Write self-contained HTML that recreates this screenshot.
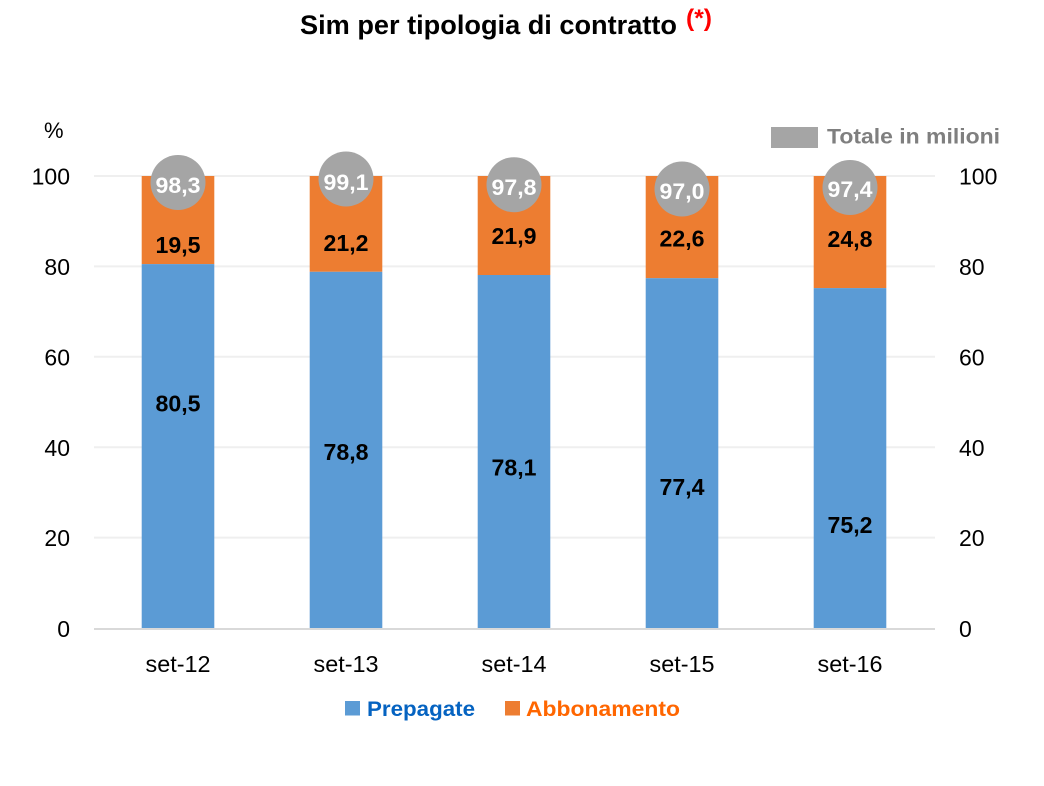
<!DOCTYPE html>
<html>
<head>
<meta charset="utf-8">
<style>
html,body{margin:0;padding:0;background:#fff;}
svg{display:block;}
text{font-family:"Liberation Sans",Arial,sans-serif;}
</style>
</head>
<body>
<svg width="1044" height="786" viewBox="0 0 1044 786" xmlns="http://www.w3.org/2000/svg">
  <rect x="0" y="0" width="1044" height="786" fill="#ffffff"/>
  <!-- Title -->
  <text x="300" y="34" font-size="27" font-weight="bold" fill="#000" textLength="377" lengthAdjust="spacingAndGlyphs">Sim per tipologia di contratto</text>
  <text x="686" y="26" font-size="24" font-weight="bold" fill="#ff0000" textLength="26" lengthAdjust="spacingAndGlyphs">(*)</text>

  <!-- gridlines -->
  <g stroke="#efefef" stroke-width="2">
    <line x1="94" y1="176" x2="935" y2="176"/>
    <line x1="94" y1="266.4" x2="935" y2="266.4"/>
    <line x1="94" y1="356.8" x2="935" y2="356.8"/>
    <line x1="94" y1="447.2" x2="935" y2="447.2"/>
    <line x1="94" y1="537.6" x2="935" y2="537.6"/>
  </g>

  <!-- bars -->
  <g>
    <rect x="141.7" y="176" width="72.6" height="88.1" fill="#ed7d31"/>
    <rect x="141.7" y="264.1" width="72.6" height="363.9" fill="#5b9bd5"/>
    <rect x="309.7" y="176" width="72.6" height="95.8" fill="#ed7d31"/>
    <rect x="309.7" y="271.8" width="72.6" height="356.2" fill="#5b9bd5"/>
    <rect x="477.7" y="176" width="72.6" height="99" fill="#ed7d31"/>
    <rect x="477.7" y="275" width="72.6" height="353" fill="#5b9bd5"/>
    <rect x="645.7" y="176" width="72.6" height="102.2" fill="#ed7d31"/>
    <rect x="645.7" y="278.2" width="72.6" height="349.8" fill="#5b9bd5"/>
    <rect x="813.7" y="176" width="72.6" height="112.1" fill="#ed7d31"/>
    <rect x="813.7" y="288.1" width="72.6" height="339.9" fill="#5b9bd5"/>
  </g>

  <!-- axis line -->
  <line x1="94" y1="629" x2="935" y2="629" stroke="#d9d9d9" stroke-width="2"/>

  <!-- circles -->
  <g fill="#a5a5a5">
    <circle cx="178" cy="182.5" r="27.5"/>
    <circle cx="346" cy="179" r="27.5"/>
    <circle cx="514" cy="184.7" r="27.5"/>
    <circle cx="682" cy="189" r="27.5"/>
    <circle cx="850" cy="187.5" r="27.5"/>
  </g>
  <g font-size="22" font-weight="bold" fill="#ffffff" text-anchor="middle">
    <text x="178" y="193" textLength="45" lengthAdjust="spacingAndGlyphs">98,3</text>
    <text x="346" y="190" textLength="45" lengthAdjust="spacingAndGlyphs">99,1</text>
    <text x="514" y="195" textLength="45" lengthAdjust="spacingAndGlyphs">97,8</text>
    <text x="682" y="199" textLength="45" lengthAdjust="spacingAndGlyphs">97,0</text>
    <text x="850" y="197" textLength="45" lengthAdjust="spacingAndGlyphs">97,4</text>
  </g>

  <!-- data labels -->
  <g font-size="23" font-weight="bold" fill="#000" text-anchor="middle">
    <text x="178" y="253" textLength="45" lengthAdjust="spacingAndGlyphs">19,5</text>
    <text x="346" y="251" textLength="45" lengthAdjust="spacingAndGlyphs">21,2</text>
    <text x="514" y="244" textLength="45" lengthAdjust="spacingAndGlyphs">21,9</text>
    <text x="682" y="246.5" textLength="45" lengthAdjust="spacingAndGlyphs">22,6</text>
    <text x="850" y="247" textLength="45" lengthAdjust="spacingAndGlyphs">24,8</text>
    <text x="178" y="411.5" textLength="45" lengthAdjust="spacingAndGlyphs">80,5</text>
    <text x="346" y="460" textLength="45" lengthAdjust="spacingAndGlyphs">78,8</text>
    <text x="514" y="475.5" textLength="45" lengthAdjust="spacingAndGlyphs">78,1</text>
    <text x="682" y="495" textLength="45" lengthAdjust="spacingAndGlyphs">77,4</text>
    <text x="850" y="533" textLength="45" lengthAdjust="spacingAndGlyphs">75,2</text>
  </g>

  <!-- left axis labels -->
  <g font-size="23" fill="#000" text-anchor="end">
    <text x="70" y="184.5">100</text>
    <text x="70" y="275">80</text>
    <text x="70" y="365.5">60</text>
    <text x="70" y="456">40</text>
    <text x="70" y="546">20</text>
    <text x="70" y="637">0</text>
  </g>
  <text x="44" y="138" font-size="22" fill="#000">%</text>

  <!-- right axis labels -->
  <g font-size="23" fill="#000" text-anchor="start">
    <text x="959" y="184.5">100</text>
    <text x="959" y="275">80</text>
    <text x="959" y="365.5">60</text>
    <text x="959" y="456">40</text>
    <text x="959" y="546">20</text>
    <text x="959" y="637">0</text>
  </g>

  <!-- x labels -->
  <g font-size="23" fill="#000" text-anchor="middle">
    <text x="178" y="672" textLength="65" lengthAdjust="spacingAndGlyphs">set-12</text>
    <text x="346" y="672" textLength="65" lengthAdjust="spacingAndGlyphs">set-13</text>
    <text x="514" y="672" textLength="65" lengthAdjust="spacingAndGlyphs">set-14</text>
    <text x="682" y="672" textLength="65" lengthAdjust="spacingAndGlyphs">set-15</text>
    <text x="850" y="672" textLength="65" lengthAdjust="spacingAndGlyphs">set-16</text>
  </g>

  <!-- top legend -->
  <rect x="771" y="127" width="47" height="21" fill="#a5a5a5"/>
  <text x="827" y="143.5" font-size="21" font-weight="bold" fill="#7f7f7f" textLength="173" lengthAdjust="spacingAndGlyphs">Totale in milioni</text>

  <!-- bottom legend -->
  <rect x="345" y="701" width="15" height="14.5" fill="#5b9bd5"/>
  <text x="367" y="716" font-size="21" font-weight="bold" fill="#0563c1" textLength="108" lengthAdjust="spacingAndGlyphs">Prepagate</text>
  <rect x="505" y="701" width="15" height="14.5" fill="#ed7d31"/>
  <text x="526" y="716" font-size="21" font-weight="bold" fill="#ff6600" textLength="154" lengthAdjust="spacingAndGlyphs">Abbonamento</text>
</svg>
</body>
</html>
